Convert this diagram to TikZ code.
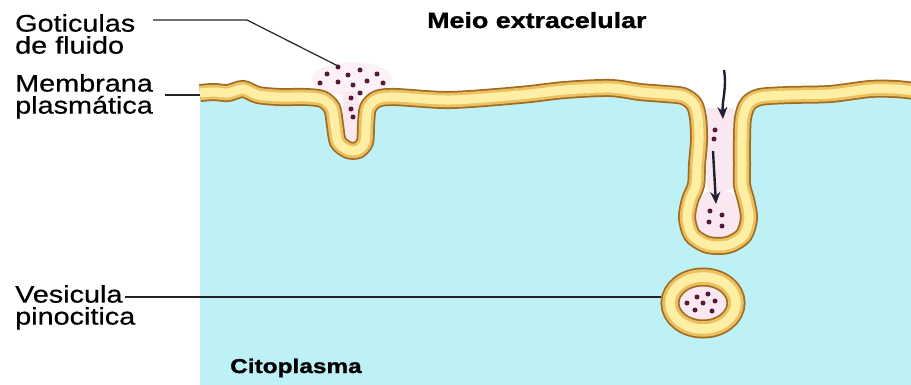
\documentclass[tikz,border=0pt]{standalone}
\usepackage{fontspec}
\newfontfamily\labelfont[FakeStretch=1.2,FakeBold=0.6]{Liberation Sans}
\newfontfamily\headfont[FakeStretch=1.22,FakeBold=1.2]{Liberation Sans}
\usetikzlibrary{arrows.meta}

\definecolor{cyto}{RGB}{190,241,246}
\definecolor{membrown}{RGB}{160,108,36}
\definecolor{memgold}{RGB}{236,192,95}
\definecolor{mempale}{RGB}{255,239,165}
\definecolor{fluid}{RGB}{250,232,240}
\definecolor{droplet}{RGB}{85,25,60}
\definecolor{inkline}{RGB}{35,35,40}
\definecolor{arrowink}{RGB}{30,30,55}

% centre line of the plasma membrane, with the shallow pit and the deep tube
\newcommand\memcurve{plot[smooth,tension=0.5] coordinates {
  (200,93) (214,92) (228,93) (243,89) (258,95) (280,97) (305,97)
  (322,99) (332,108) (335,125) (338,142) (348,150) (358,150) (365,142)
  (366,125) (368,108) (377,99) (395,97)
  (450,100) (520,95) (565,90) (610,88) (640,92) (665,94) (683,96)
  (694,104) (698,118) (699,140) (697,165) (696,185) (690,200) (687,218)
  (692,235) (705,244) (718,246) (731,244) (744,235) (749,218) (746,200)
  (742,185) (742,165) (742,140) (743,118) (748,104) (760,97)
  (790,95) (830,94) (870,89) (895,89) (915,91)}}

\begin{document}
\begin{tikzpicture}[x=1pt,y=-1pt,
  lbl/.style={font=\labelfont\fontsize{24}{22}\selectfont, align=left,
    inner sep=0pt, anchor=north west, text=black},
  head/.style={font=\headfont\bfseries\fontsize{22}{22}\selectfont,
    inner sep=0pt, anchor=base west, text=black},
  leader/.style={draw=inkline, line width=1.2pt},
  drop/.style={fill=droplet},
  flow/.style={draw=arrowink, line width=2.4pt,
    -{Stealth[length=12pt,width=10pt]}},
  band1/.style={draw=membrown, line width=18pt},
  band2/.style={draw=memgold, line width=14.5pt},
  band3/.style={draw=mempale, line width=9pt},
]
\useasboundingbox (0,0) rectangle (911,385);
\clip (0,0) rectangle (911,385);

% cytoplasm below the membrane
\fill[cyto] \memcurve -- (915,390) -- (200,390) -- cycle;

% extracellular fluid: droplets haze, pit lumen, tube lumen
\fill[fluid, opacity=0.6] (352,79) ellipse [x radius=40, y radius=17];
\fill[fluid] (343,92) rectangle (359,146);
\fill[fluid] (707,108) rectangle (734,190);
\fill[fluid] (718,215) ellipse [x radius=24, y radius=26];

% membrane band
\draw[band1] \memcurve;
\draw[band2] \memcurve;
\draw[band3] \memcurve;

% pinocytic vesicle
\fill[fluid] (703,303) ellipse [x radius=25, y radius=18];
\draw[draw=membrown, line width=19pt] (703,303) ellipse [x radius=33, y radius=26];
\draw[draw=memgold, line width=15.5pt] (703,303) ellipse [x radius=33, y radius=26];
\draw[draw=mempale, line width=9.5pt] (703,303) ellipse [x radius=33, y radius=26];

% fluid droplets
\foreach \p in {(338,67),(360,70),(327,74),(348,75),(377,74),(320,83),
  (338,82),(353,85),(367,81),(383,83),(360,93),(351,98),(351,109),(353,117),
  (715,130),(714,139),(710,211),(722,215),(709,222),(722,226),
  (687,303),(697,297),(708,294),(703,303),(715,301),(695,310),(712,311)}
  \fill[drop] \p circle (2.5);

% inward movement of the fluid
\coordinate (a1s) at (724,70);
\coordinate (a1e) at (723,119);
\coordinate (a2s) at (713,151);
\coordinate (a2e) at (716,204);
\draw[flow] (a1s) .. controls (727,88) and (722,100) .. (a1e);
\draw[flow] (a2s) -- (a2e);

% labels
\node[lbl] (gotlbl) at (15,14) {Goticulas\\de fluido};
\node[lbl] (memlbl) at (15,74) {Membrana\\plasmática};
\node[lbl] (veslbl) at (15,285) {Vesicula\\pinocitica};
\node[head] (meio) at (427,28) {Meio extracelular};
\node[head, font=\headfont\bfseries\fontsize{20}{20}\selectfont] (cito) at (230,373) {Citoplasma};

% leader lines
\coordinate (g0) at (153,20);
\coordinate (g1) at (247,20);
\coordinate (g2) at (338,66);
\coordinate (m0) at (165,95);
\coordinate (m1) at (200,95);
\coordinate (v0) at (125,297);
\coordinate (v1) at (661,297);
\draw[leader] (g0) -- (g1) -- (g2);
\draw[leader] (m0) -- (m1);
\draw[leader] (v0) -- (v1);
\end{tikzpicture}
\end{document}
